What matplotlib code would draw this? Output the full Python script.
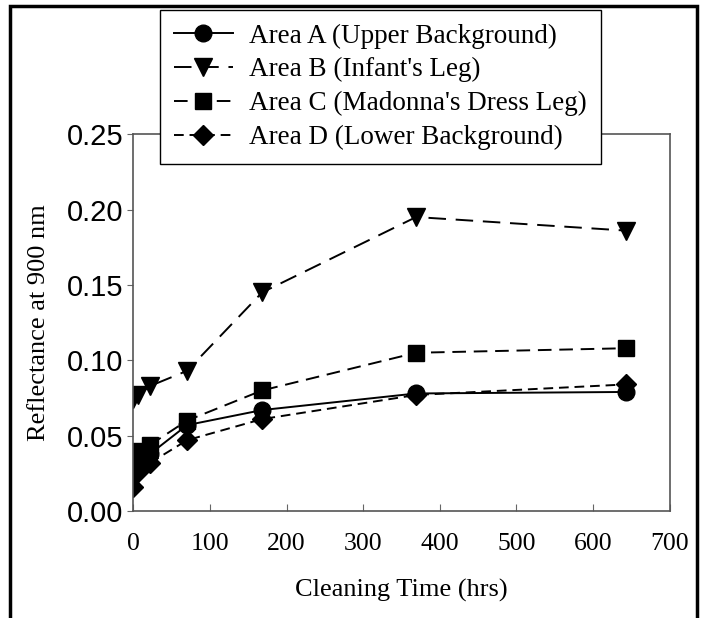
import matplotlib
matplotlib.use("Agg")
import matplotlib.pyplot as plt
from matplotlib.patches import Rectangle

hours = [0, 6, 22, 70, 168, 369, 643]
area_a = [0.030, 0.034, 0.038, 0.057, 0.067, 0.078, 0.079]
area_b = [0.074, 0.077, 0.083, 0.093, 0.145, 0.195, 0.186]
area_c = [0.035, 0.040, 0.044, 0.060, 0.080, 0.105, 0.108]
area_d = [0.016, 0.026, 0.032, 0.047, 0.061, 0.077, 0.084]

labels = ["Area A (Upper Background)", "Area B (Infant's Leg)",
          "Area C (Madonna's Dress Leg)", "Area D (Lower Background)"]
x_ticks = [0, 100, 200, 300, 400, 500, 600, 700]
y_ticks = [0.00, 0.05, 0.10, 0.15, 0.20, 0.25]

serif = ["Liberation Serif", "DejaVu Serif"]
sans = ["Liberation Sans", "DejaVu Sans"]

fig = plt.figure(figsize=(7.02, 6.18), dpi=100)
ax = fig.add_axes([0.190, 0.173, 0.764, 0.610])

ax.plot(hours, area_a, color="black", ls="-", lw=1.4, marker="o", ms=12, label=labels[0])
ax.plot(hours, area_b, color="black", ls=(0, (9, 5)), lw=1.4, marker="v", ms=13, label=labels[1])
ax.plot(hours, area_c, color="black", ls=(0, (7, 4)), lw=1.4, marker="s", ms=12, label=labels[2])
ax.plot(hours, area_d, color="black", ls=(0, (5, 3)), lw=1.4, marker="D", ms=10.5, label=labels[3])

ax.set_xlim(0, 700)
ax.set_ylim(0, 0.25)
ax.set_xticks(x_ticks)
ax.set_xticklabels([str(v) for v in x_ticks], fontfamily=serif, fontsize=18.5)
ax.set_yticks(y_ticks)
ax.set_yticklabels([f"{v:.2f}" for v in y_ticks], fontfamily=sans, fontsize=21)
ax.tick_params(axis="x", direction="in", length=5, color="#666666", pad=16)
ax.tick_params(axis="y", direction="out", length=4, color="#666666", pad=3)
for s in ax.spines.values():
    s.set_color("#555555")
    s.set_linewidth(1.2)

ax.set_xlabel("Cleaning Time (hrs)", fontfamily=serif, fontsize=19, labelpad=17)
ax.set_ylabel("Reflectance at 900 nm", fontfamily=serif, fontsize=19, labelpad=12)

leg = fig.legend(loc="upper left", bbox_to_anchor=(0.228, 0.984), prop={"family": serif, "size": 19.5},
                 frameon=True, fancybox=False, edgecolor="black", framealpha=1,
                 handlelength=2.2, labelspacing=0.32, borderpad=0.5, handletextpad=0.6,
                 borderaxespad=0.0)
leg.get_frame().set_linewidth(1.0)

fig.patches.append(Rectangle((10 / 702, -0.05), 687 / 702, 1.05 - 6 / 618, transform=fig.transFigure,
                             fill=False, edgecolor="black", lw=2.5, zorder=10))

fig.savefig("out.png", dpi=100)
